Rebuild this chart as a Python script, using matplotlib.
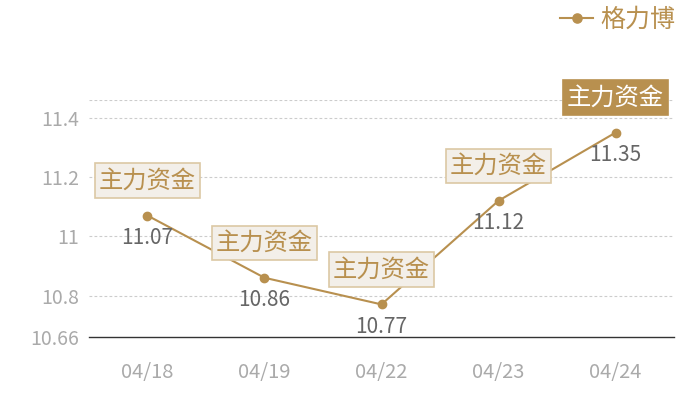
import matplotlib
matplotlib.use('Agg')
import matplotlib.pyplot as plt

plt.rcParams['font.family'] = ['Noto Sans CJK SC', 'DejaVu Sans']

dates = ['04/18', '04/19', '04/22', '04/23', '04/24']
prices = [11.07, 10.86, 10.77, 11.12, 11.35]
series_name = '格力博'
box_text = '主力资金'
yticks = [10.66, 10.8, 11.0, 11.2, 11.4]
ytick_labels = ['10.66', '10.8', '11', '11.2', '11.4']
ymin, ymax = 10.66, 11.46

gold = '#b8904f'

fig = plt.figure(figsize=(7, 4), dpi=100)
ax = fig.add_axes([0.127, 0.1575, 0.836, 0.5925])

x = list(range(len(dates)))
ax.plot(x, prices, color=gold, lw=1.5, marker='o', ms=6, label=series_name, zorder=3)

ax.set_xlim(-0.5, len(dates) - 0.5)
ax.set_ylim(ymin, ymax)
ax.set_xticks(x)
ax.set_xticklabels(dates)
ax.set_yticks(yticks)
ax.set_yticklabels(ytick_labels)
ax.tick_params(axis='both', length=0, labelsize=14.5, colors='#aaaaaa')
ax.tick_params(axis='x', pad=18)
ax.tick_params(axis='y', pad=7, labelsize=14)

for s in ['top', 'right', 'left']:
    ax.spines[s].set_visible(False)
ax.spines['bottom'].set_color('#333333')
ax.spines['bottom'].set_linewidth(1)

for t in yticks[1:] + [ymax]:
    ax.axhline(t, color='#cccccc', lw=0.8, ls=(0, (2.5, 2)), zorder=1)

for i, (xi, p) in enumerate(zip(x, prices)):
    ax.annotate(f'{p:g}', (xi, p), xytext=(0, -16), textcoords='offset points',
                ha='center', va='center', fontsize=15, color='#666666', zorder=4)
    last = i == len(prices) - 1
    ax.annotate(box_text, (xi, p), xytext=(0, 25), textcoords='offset points',
                ha='center', va='center', fontsize=17.5,
                color='white' if last else gold, zorder=5,
                bbox=dict(boxstyle='square,pad=0.18',
                          fc=gold if last else '#f3efe9',
                          ec='#dcc8a4' if not last else gold, lw=1.2))

leg = fig.legend(loc='upper right', bbox_to_anchor=(0.997, 1.04), frameon=False,
                 fontsize=18, handlelength=1.3, handletextpad=0.3,
                 markerscale=1.1)
for t in leg.get_texts():
    t.set_color(gold)

fig.savefig('out.png', dpi=100)
